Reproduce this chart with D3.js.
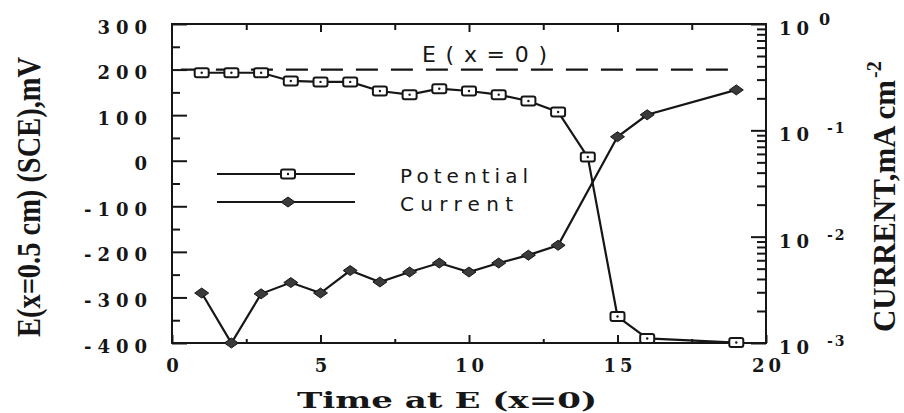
<!DOCTYPE html>
<html>
<head>
<meta charset="utf-8">
<script src="https://cdn.jsdelivr.net/npm/d3@7"></script>
<style>
  html, body { margin: 0; padding: 0; background: #fff; }
  svg { display: block; }
</style>
</head>
<body>
<svg id="chart" width="904" height="413"></svg>
<script>
// Potential at x = 0.5 cm (mV vs SCE), left axis
const potTime = [1, 2, 3, 4, 5, 6, 7, 8, 9, 10, 11, 12, 13, 14, 15, 16, 19];
const potValue = [193, 193, 193, 175, 173, 173, 153, 145, 158, 153, 145, 131, 107, 8, -342, -390, -399];

// Current density (mA cm^-2), right log axis
const curTime = [1, 2, 3, 4, 5, 6, 7, 8, 9, 10, 11, 12, 13, 15, 16, 19];
const curValue = [0.00295, 0.001, 0.0029, 0.0037, 0.00295, 0.0048, 0.00375, 0.00465, 0.00565, 0.00465, 0.00565, 0.0067, 0.0083, 0.087, 0.14, 0.24];

// Reference potential E(x=0)
const refPotential = [200];
const refSpan = [0.3, 19];

// Axis ticks
const xMajor = [0, 5, 10, 15, 20];
const xMinor = [2.5, 7.5, 12.5, 17.5];
const yLeftMajor = [-400, -300, -200, -100, 0, 100, 200, 300];
const yLeftMinor = [-350, -250, -150, -50, 50, 150, 250];
const yRightExp = [-3, -2, -1, 0];

const legendLabels = ["Potential", "Current"];

const svg = d3.select("#chart");
const ink = "#161616";

const x = d3.scaleLinear().domain([0, 20]).range([172, 766]);
const yL = d3.scaleLinear().domain([-400, 300]).range([343, 24]);
const yR = d3.scaleLog().domain([1e-3, 1]).range([343, 24]);

const serifBold = "'DejaVu Serif', serif";
const plainNum = d => String(d);   // ASCII hyphen for negatives

// ---- ticks (all pointing into the plot) ----
function tickStyle(g) {
  g.select(".domain").remove();
  g.selectAll("line").attr("stroke", ink).attr("stroke-width", 2);
}

svg.append("g").attr("transform", `translate(${x(0)},0)`)
  .call(d3.axisLeft(yL).tickValues(yLeftMajor).tickSize(-15).tickPadding(25).tickFormat(plainNum))
  .call(tickStyle)
  .call(g => g.selectAll("text")
    .attr("dy", 9).attr("dx", 6)
    .attr("font-family", serifBold).attr("font-weight", "bold")
    .attr("font-size", 18).attr("letter-spacing", 6).attr("fill", ink));

svg.append("g").attr("transform", `translate(${x(0)},0)`)
  .call(d3.axisLeft(yL).tickValues(yLeftMinor).tickSize(-8).tickFormat(""))
  .call(tickStyle);

svg.append("g").attr("transform", `translate(0,${yL(-400)})`)
  .call(d3.axisBottom(x).tickValues(xMajor).tickSize(-8).tickPadding(17).tickFormat(plainNum))
  .call(tickStyle)
  .call(g => g.selectAll("text")
    .attr("dy", 12).attr("dx", 2)
    .attr("font-family", serifBold).attr("font-weight", "bold")
    .attr("font-size", 18).attr("letter-spacing", 4).attr("fill", ink));

svg.append("g").attr("transform", `translate(0,${yL(-400)})`)
  .call(d3.axisBottom(x).tickValues(xMinor).tickSize(-4).tickFormat(""))
  .call(tickStyle);

svg.append("g").attr("transform", `translate(0,${yL(300)})`)
  .call(d3.axisTop(x).tickValues(xMajor.slice(1, -1)).tickSize(-8).tickFormat(""))
  .call(tickStyle);
svg.append("g").attr("transform", `translate(0,${yL(300)})`)
  .call(d3.axisTop(x).tickValues(xMinor).tickSize(-6).tickFormat(""))
  .call(tickStyle);

// right log axis: decades + minor ticks
const rightMajor = yRightExp.map(e => Math.pow(10, e));
const rightMinor = [];
for (let e = -3; e < 0; e++) for (let m = 2; m <= 9; m++) rightMinor.push(m * Math.pow(10, e));

svg.append("g").attr("transform", `translate(${x(20)},0)`)
  .call(d3.axisRight(yR).tickValues(rightMajor).tickSize(-15).tickFormat(""))
  .call(tickStyle);
svg.append("g").attr("transform", `translate(${x(20)},0)`)
  .call(d3.axisRight(yR).tickValues(rightMinor).tickSize(-9).tickFormat(""))
  .call(tickStyle);

const rLab = svg.append("g").selectAll("text").data(yRightExp).join("text")
  .attr("x", 779)
  .attr("y", d => yR(Math.pow(10, d)) + 11)
  .attr("font-family", serifBold).attr("font-weight", "bold")
  .attr("font-size", 18).attr("fill", ink);
rLab.append("tspan").attr("letter-spacing", 5).text("10");
rLab.append("tspan")
  .attr("x", d => d === 0 ? 819 : 827)
  .attr("dy", d => d === 0 ? -10 : -8)
  .attr("font-size", d => d === 0 ? 16 : 14)
  .attr("letter-spacing", 2)
  .text(d => d === 0 ? "0" : "-" + Math.abs(d));

// ---- frame ----
svg.append("rect")
  .attr("x", x(0)).attr("y", yL(300))
  .attr("width", x(20) - x(0)).attr("height", yL(-400) - yL(300))
  .attr("fill", "none").attr("stroke", ink).attr("stroke-width", 2);

// ---- reference potential (dashed) ----
svg.append("line")
  .attr("x1", x(refSpan[0])).attr("x2", x(refSpan[1]))
  .attr("y1", yL(refPotential[0])).attr("y2", yL(refPotential[0]))
  .attr("stroke", ink).attr("stroke-width", 2.2)
  .attr("stroke-dasharray", "22 13");

svg.append("text")
  .attr("x", 422).attr("y", 62)
  .attr("font-family", "'DejaVu Sans', sans-serif").attr("font-size", 22)
  .attr("textLength", 125).attr("lengthAdjust", "spacing")
  .attr("fill", ink).text("E(x=0)");

// ---- series ----
const potLine = d3.line().x(d => x(d[0])).y(d => yL(d[1]));
const curLine = d3.line().x(d => x(d[0])).y(d => yR(d[1]));
const potData = potTime.map((t, i) => [t, potValue[i]]);
const curData = curTime.map((t, i) => [t, curValue[i]]);

svg.append("path").attr("d", curLine(curData))
  .attr("fill", "none").attr("stroke", ink).attr("stroke-width", 2.2);
svg.append("path").attr("d", potLine(potData))
  .attr("fill", "none").attr("stroke", ink).attr("stroke-width", 2.2);

const diamond = "M-7,0L0,-5L7,0L0,5Z";
function drawDiamond(sel) {
  sel.append("path").attr("d", diamond).attr("fill", "#3a3a3a").attr("stroke", ink).attr("stroke-width", 1);
}
function drawSquare(sel) {
  sel.append("rect").attr("x", -7).attr("y", -4.5).attr("width", 14).attr("height", 9).attr("rx", 2)
    .attr("fill", "#fff").attr("stroke", ink).attr("stroke-width", 2);
  sel.append("circle").attr("r", 1.2).attr("fill", ink);
}

svg.append("g").selectAll("g").data(curData).join("g")
  .attr("transform", d => `translate(${x(d[0])},${yR(d[1])})`)
  .call(drawDiamond);
svg.append("g").selectAll("g").data(potData).join("g")
  .attr("transform", d => `translate(${x(d[0])},${yL(d[1])})`)
  .call(drawSquare);

// ---- legend ----
const legend = svg.append("g");
const legRows = [{ y: 174, mark: drawSquare }, { y: 202, mark: drawDiamond }];
legRows.forEach((r, i) => {
  legend.append("line").attr("x1", 217).attr("x2", 355).attr("y1", r.y).attr("y2", r.y)
    .attr("stroke", ink).attr("stroke-width", 2);
  legend.append("g").attr("transform", `translate(288,${r.y})`).call(r.mark);
  legend.append("text")
    .attr("x", 400).attr("y", r.y + 9)
    .attr("font-family", "'DejaVu Sans', sans-serif").attr("font-size", 20)
    .attr("textLength", i === 0 ? 128 : 113).attr("lengthAdjust", "spacing")
    .attr("fill", ink).text(legendLabels[i]);
});

// ---- axis titles ----
svg.append("text")
  .attr("x", 297).attr("y", 408)
  .attr("font-family", serifBold).attr("font-weight", "bold").attr("font-size", 22)
  .attr("textLength", 300).attr("lengthAdjust", "spacingAndGlyphs")
  .attr("fill", ink).text("Time at E (x=0)");

svg.append("text")
  .attr("transform", "translate(40,337) rotate(-90)")
  .attr("font-family", "'Liberation Serif', serif").attr("font-weight", "bold").attr("font-size", 33)
  .attr("textLength", 280).attr("lengthAdjust", "spacingAndGlyphs")
  .attr("fill", ink).text("E(x=0.5 cm) (SCE),mV");

const rt = svg.append("text")
  .attr("transform", "translate(895,332) rotate(-90)")
  .attr("font-family", "'Liberation Serif', serif").attr("font-weight", "bold").attr("font-size", 32)
  .attr("fill", ink);
rt.append("tspan").attr("textLength", 252).attr("lengthAdjust", "spacingAndGlyphs").text("CURRENT,mA cm");
rt.append("tspan").attr("dy", -14).attr("dx", 2).attr("font-size", 20).text("-2");
</script>
</body>
</html>
